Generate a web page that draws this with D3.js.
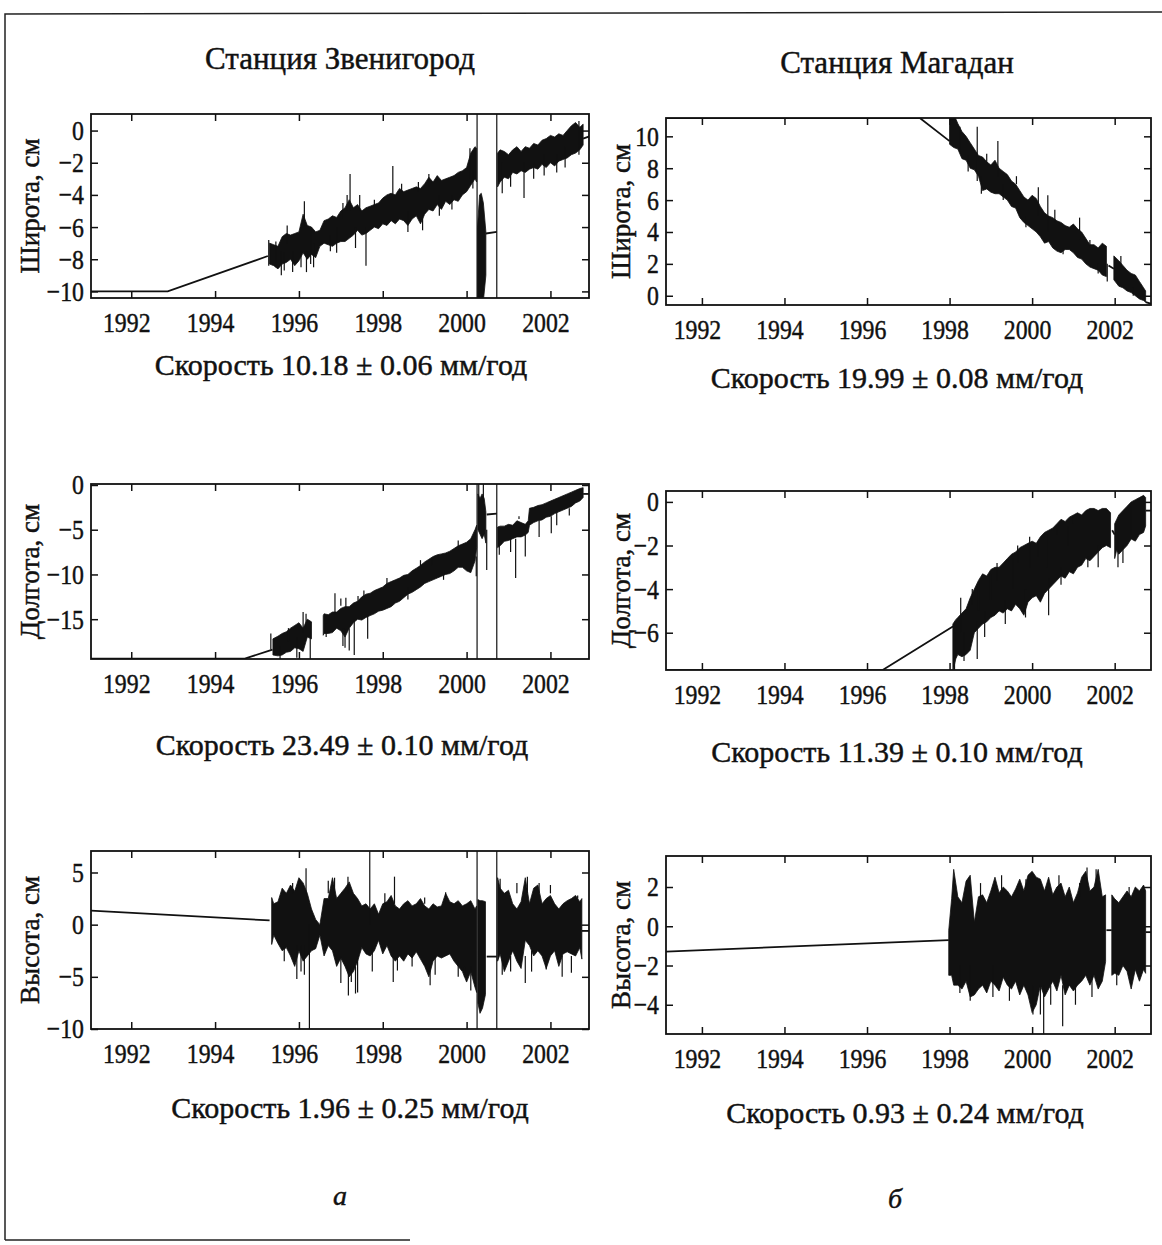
<!DOCTYPE html>
<html>
<head>
<meta charset="utf-8">
<title>Станции Звенигород и Магадан</title>
<script src="https://cdn.jsdelivr.net/npm/d3@7"></script>
<style>
  body { margin: 0; background: #fff; }
  svg { display: block; }
  text { font-family: "Liberation Serif", "Times New Roman", serif; fill: #111; stroke: #111; stroke-width: 0.45px; }
  .axis path { display: none; }
  .axis line { stroke: #111; stroke-width: 1.5; }
  .axis text { font-size: 28px; font-family: "Liberation Serif", serif; fill: #111; stroke: #111; stroke-width: 0.45px; }
  .frame { fill: none; stroke: #111; stroke-width: 1.8; }
  .band { fill: #111; stroke: #111; stroke-width: 0.8; stroke-linejoin: miter; }
  .spike { stroke: #111; stroke-width: 1.2; }
  .link { fill: none; stroke: #111; stroke-width: 1.8; }
  .border { fill: none; stroke: #222; stroke-width: 1.5; }
</style>
</head>
<body>
<script>

const xTicks = [1992, 1994, 1996, 1998, 2000, 2002];
const stationNames = ["Станция Звенигород", "Станция Магадан"];
const columnLetters = ["а", "б"];
const componentLabels = ["Широта, см", "Долгота, см", "Высота, см"];
const rateLabels = [
  ["Скорость 10.18 ± 0.06 мм/год", "Скорость 23.49 ± 0.10 мм/год", "Скорость 1.96 ± 0.25 мм/год"],
  ["Скорость 19.99 ± 0.08 мм/год", "Скорость 11.39 ± 0.10 мм/год", "Скорость 0.93 ± 0.24 мм/год"]
];

// y ticks per panel
const zvLatTicks = [0, -2, -4, -6, -8, -10];
const zvLonTicks = [0, -5, -10, -15];
const zvHgtTicks = [5, 0, -5, -10];
const magLatTicks = [0, 2, 4, 6, 8, 10];
const magLonTicks = [0, -2, -4, -6];
const magHgtTicks = [2, 0, -2, -4];

// bands: [year, low, high] (null = gap)
const zvLatBand = [
  [1995.3,-8.3,-7.0],[1995.4,-8.4,-7.1],[1995.5,-8.6,-7.2],[1995.6,-8.3,-6.6],[1995.7,-8.2,-6.4],
  [1995.8,-8.0,-6.5],[1995.9,-8.4,-6.4],[1996.0,-8.1,-6.3],[1996.1,-7.6,-5.2],[1996.2,-8.0,-5.9],
  [1996.3,-7.7,-6.0],[1996.4,-7.9,-6.3],[1996.5,-7.2,-6.2],[1996.6,-7.0,-5.6],[1996.7,-7.1,-5.5],
  [1996.8,-7.2,-5.3],[1996.9,-7.0,-5.4],[1997.0,-6.9,-5.0],[1997.1,-6.9,-4.8],[1997.2,-6.7,-4.3],
  [1997.3,-6.5,-4.8],[1997.4,-6.2,-4.6],[1997.5,-6.5,-5.0],[1997.6,-6.4,-4.8],[1997.7,-6.2,-4.7],
  [1997.8,-6.0,-4.6],[1997.9,-6.1,-4.5],[1998.0,-5.8,-4.2],[1998.1,-5.9,-4.0],[1998.2,-5.6,-3.9],
  [1998.3,-5.8,-4.0],[1998.4,-5.5,-3.6],[1998.5,-5.6,-3.8],[1998.6,-5.9,-3.7],[1998.7,-5.5,-3.6],
  [1998.8,-5.3,-3.5],[1998.9,-5.8,-3.6],[1999.0,-5.2,-3.3],[1999.1,-4.9,-2.9],[1999.2,-5.0,-3.2],
  [1999.3,-4.6,-2.8],[1999.4,-4.9,-3.1],[1999.5,-4.4,-3.0],[1999.6,-4.6,-2.9],[1999.7,-4.3,-2.8],
  [1999.8,-4.4,-2.6],[1999.9,-4.0,-2.5],[2000.0,-3.8,-2.3],[2000.1,-3.4,-1.4],[2000.2,-3.0,-1.0],
  [2000.24,-3.2,-1.1],[2000.25,null,null],
  [2000.26,-10.8,-6.0],[2000.31,-10.8,-4.0],[2000.35,-10.8,-3.9],[2000.4,-10.6,-4.5],[2000.46,-9.0,-6.3],
  [2000.48,null,null],
  [2000.74,-3.5,-1.4],[2000.8,-3.2,-1.2],[2000.9,-2.9,-1.3],[2001.0,-3.0,-1.5],[2001.1,-2.6,-1.2],
  [2001.2,-2.7,-1.0],[2001.3,-2.5,-1.3],[2001.4,-2.6,-1.0],[2001.5,-2.4,-1.1],[2001.6,-2.3,-0.8],
  [2001.7,-2.4,-0.9],[2001.8,-2.1,-0.6],[2001.9,-2.3,-0.5],[2002.0,-2.0,-0.3],[2002.1,-2.2,-0.4],
  [2002.2,-1.9,-0.2],[2002.3,-1.8,-0.3],[2002.4,-1.7,0.0],[2002.5,-1.5,0.3],[2002.6,-1.4,0.5],
  [2002.7,-1.2,0.2],[2002.78,-0.9,0.4]
];
// spikes: [year, from, to]
const zvLatSpikes = [
  [1995.28,-8.4,-6.8],[1995.58,-9.0,-7.5],[1995.72,-7.0,-5.9],[1995.85,-8.8,-7.5],[1996.13,-6.0,-4.4],
  [1996.18,-8.8,-7.5],[1996.28,-8.3,-6.0],[1996.9,-7.6,-6.0],[1997.22,-5.0,-2.7],[1997.15,-5.0,-4.0],
  [1997.6,-8.4,-6.0],[1997.35,-7.3,-6.0],[1998.24,-4.0,-2.2],[1998.6,-6.3,-5.0],[1998.95,-6.2,-5.0],
  [1999.1,-3.5,-2.7],[2000.08,-3.0,-1.1],[2000.25,-11,1.2],[2000.72,-11,1.2],[2000.85,-3.9,-2.0],
  [2001.37,-4.2,-2.0],[2002.35,-2.3,-1.0],[2002.68,-1.5,0.6],
  [1995.45,-8.5,-6.9],[1995.65,-8.7,-7.6],[1996.05,-8.5,-7.5],[1996.35,-8.5,-7.0],[1996.75,-7.5,-6.5],
  [1997.05,-5.5,-4.5],[1997.45,-5.0,-4.0],[1997.8,-4.8,-4.3],[1998.45,-3.8,-3.3],[1998.85,-3.8,-3.2],
  [1999.35,-5.3,-4.0],[1999.65,-4.9,-4.0],[2000.15,-3.6,-2.5],[2001.05,-3.5,-2.5],[2001.6,-3.0,-2.0],
  [2001.85,-2.8,-1.5],[2002.15,-2.6,-1.5]
];
const zvLatLinks = [
  [[1991.0,-10.0],[1992.87,-10.0],[1995.26,-7.8]],
  [[2000.46,-6.4],[2000.72,-6.3]],
  [[2002.78,-0.5],[2003.0,-0.3]]
];

const zvLonBand = [
  [1995.38,-19.0,-17.2],[1995.5,-19.1,-16.9],[1995.6,-19.0,-16.6],[1995.7,-18.7,-16.4],[1995.8,-18.6,-16.0],
  [1995.9,-18.2,-15.7],[1996.0,-18.3,-15.4],[1996.1,-18.6,-16.0],[1996.2,-17.0,-15.0],[1996.3,-17.2,-15.3],
  [1996.35,null,null],
  [1996.58,-16.8,-14.6],[1996.6,-16.6,-14.4],[1996.7,-16.6,-14.5],[1996.8,-16.5,-14.2],[1996.9,-16.0,-14.2],
  [1997.0,-16.3,-13.8],[1997.1,-17.0,-13.6],[1997.2,-16.0,-13.6],[1997.3,-15.4,-13.2],[1997.4,-15.0,-13.0],
  [1997.5,-15.1,-12.5],[1997.6,-14.8,-12.2],[1997.7,-14.6,-12.1],[1997.8,-14.4,-11.8],[1997.9,-14.1,-11.6],
  [1998.0,-14.0,-11.4],[1998.1,-13.8,-11.0],[1998.2,-13.6,-10.8],[1998.3,-13.2,-10.6],[1998.4,-13.0,-10.4],
  [1998.5,-12.6,-10.1],[1998.6,-12.2,-10.0],[1998.7,-12.0,-9.6],[1998.8,-11.7,-9.3],[1998.9,-11.4,-9.0],
  [1999.0,-11.0,-8.6],[1999.1,-10.8,-8.3],[1999.2,-10.6,-8.0],[1999.3,-10.4,-7.8],[1999.4,-10.2,-7.7],
  [1999.5,-10.0,-7.6],[1999.6,-9.9,-7.4],[1999.7,-9.6,-7.1],[1999.8,-9.2,-6.8],[1999.9,-9.2,-6.6],
  [2000.0,-9.6,-6.4],[2000.1,-9.8,-6.0],[2000.2,-8.5,-5.0],[2000.24,-7.0,-4.5],[2000.25,null,null],
  [2000.27,-5.0,-1.0],[2000.32,-5.5,-1.5],[2000.37,-6.0,-1.0],[2000.42,-5.5,-1.5],[2000.46,-6.5,-3.0],
  [2000.48,null,null],
  [2000.74,-7.0,-4.7],[2000.8,-6.8,-4.6],[2000.9,-6.3,-4.6],[2001.0,-6.2,-4.4],[2001.1,-6.0,-4.5],
  [2001.2,-5.8,-4.0],[2001.3,-5.8,-4.2],[2001.4,-5.6,-4.4],[2001.47,-5.3,-4.0],[2001.5,-4.5,-2.6],
  [2001.6,-4.2,-2.5],[2001.7,-4.0,-2.3],[2001.8,-3.9,-2.2],[2001.9,-3.6,-2.0],[2002.0,-3.5,-1.8],
  [2002.1,-3.2,-1.6],[2002.2,-3.0,-1.4],[2002.3,-2.8,-1.2],[2002.4,-2.6,-1.0],[2002.5,-2.4,-0.8],
  [2002.6,-2.0,-0.6],[2002.7,-1.8,-0.4],[2002.78,-1.4,-0.3]
];
const zvLonSpikes = [
  [1995.33,-18.4,-16.6],[1995.75,-17.5,-16.0],[1996.17,-16.0,-14.4],[1996.27,-19.5,-17.0],
  [1996.86,-14.5,-12.1],[1997.1,-18.2,-16.0],[1997.05,-18.0,-16.0],[1997.12,-13.8,-12.6],
  [1997.32,-19.0,-15.0],[1997.41,-13.2,-12.4],[1997.64,-17.2,-14.5],[1999.18,-9.0,-8.2],
  [2000.23,-10.2,-8.0],[2000.25,-20,0.5],[2000.29,-2.0,0.2],[2000.4,-2.0,0.2],[2000.48,-9.5,-5.0],
  [2000.72,-20,0.5],[2000.78,-7.8,-6.5],[2001.17,-10.4,-6.0],[2001.4,-8.0,-5.5],[2001.73,-5.8,-4.0],
  [2002.02,-5.4,-3.5],
  [1995.55,-19.5,-18.0],[1995.95,-19.3,-17.0],[1996.1,-16.5,-14.2],[1996.65,-17.0,-15.5],
  [1997.0,-13.5,-12.7],[1997.2,-18.5,-16.0],[1997.55,-12.8,-11.8],[1998.1,-11.4,-10.4],
  [1998.6,-12.8,-11.5],[1998.9,-9.2,-8.4],[1999.45,-10.6,-9.5],[1999.8,-7.0,-6.2],
  [2001.05,-7.5,-6.0],[2001.25,-3.8,-3.5],[2002.15,-4.5,-3.0],[2002.45,-3.4,-2.6]
];
const zvLonLinks = [
  [[1991.0,-19.4],[1994.71,-19.4],[1995.37,-18.4]],
  [[2000.48,-3.3],[2000.72,-3.2]],
  [[2002.78,-1.0],[2003.0,-1.0]]
];

const zvHgtBand = [
  [1995.35,-1.9,2.6],[1995.4,-1.0,2.0],[1995.5,-1.8,2.2],[1995.6,-2.5,3.5],[1995.7,-2.2,3.0],
  [1995.8,-3.0,3.8],[1995.9,-4.0,3.2],[1996.0,-2.5,4.5],[1996.1,-3.5,4.0],[1996.2,-3.0,3.0],
  [1996.3,-2.5,1.5],[1996.4,-2.3,0.5],[1996.5,-1.0,0.0],[1996.6,-3.0,2.5],[1996.7,-2.0,2.5],
  [1996.8,-2.5,4.5],[1996.9,-4.0,2.5],[1997.0,-3.2,3.0],[1997.1,-4.0,3.5],[1997.2,-5.0,4.1],
  [1997.3,-4.5,3.0],[1997.4,-3.5,2.5],[1997.5,-2.2,1.8],[1997.6,-2.8,2.0],[1997.7,-3.0,1.5],
  [1997.8,-2.5,2.0],[1997.9,-1.5,1.0],[1998.0,-2.8,2.0],[1998.1,-2.0,2.2],[1998.2,-3.0,2.8],
  [1998.3,-3.5,1.8],[1998.4,-3.0,1.5],[1998.5,-3.5,2.0],[1998.6,-2.8,2.3],[1998.7,-3.2,1.8],
  [1998.8,-2.6,2.0],[1998.9,-3.3,2.5],[1999.0,-4.0,1.8],[1999.1,-5.0,1.5],[1999.2,-3.5,2.0],
  [1999.3,-3.0,1.7],[1999.4,-3.2,1.8],[1999.5,-3.0,3.0],[1999.6,-2.8,2.2],[1999.7,-3.5,2.0],
  [1999.8,-4.0,2.3],[1999.9,-4.5,1.8],[2000.0,-5.5,2.0],[2000.1,-4.5,2.3],[2000.2,-6.0,1.5],
  [2000.24,-6.5,1.8],[2000.25,null,null],
  [2000.27,-7.5,2.4],[2000.32,-8.5,2.3],[2000.38,-8.0,2.3],[2000.45,-6.7,2.2],[2000.48,null,null],
  [2000.74,-3.5,4.5],[2000.8,-2.8,3.5],[2000.9,-4.5,3.0],[2001.0,-3.5,3.3],[2001.1,-2.5,2.0],
  [2001.2,-3.5,1.5],[2001.3,-4.2,2.2],[2001.4,-1.5,4.5],[2001.5,-2.0,2.0],[2001.6,-3.0,3.5],
  [2001.7,-2.5,3.8],[2001.8,-3.0,2.0],[2001.9,-4.2,2.5],[2002.0,-3.0,2.8],[2002.1,-2.5,2.0],
  [2002.2,-4.0,1.5],[2002.3,-2.8,2.0],[2002.4,-2.6,2.3],[2002.5,-2.8,2.5],[2002.6,-3.0,2.8],
  [2002.7,-2.2,2.2],[2002.75,-3.3,2.5]
];
const zvHgtSpikes = [
  [1995.95,-5.2,-2.0],[1996.17,3.0,5.4],[1996.13,-4.8,-2.0],[1996.25,-10.5,0.0],[1997.0,-5.6,-3.0],
  [1997.18,-6.8,-4.0],[1997.17,3.0,4.6],[1997.35,-6.6,-4.0],[1997.69,0.0,7.2],[1998.25,-5.5,-3.0],
  [1998.28,2.0,4.6],[1999.13,-5.8,-4.0],[1999.5,2.0,3.1],[2000.25,-10.5,7.2],[2000.72,-10.5,7.2],
  [2000.8,3.0,4.4],[2001.4,-5.6,-3.0],[2001.45,3.0,4.6],[2001.73,3.0,4.0],[2002.28,-5.0,-3.0],
  [1995.65,-3.5,-2.0],[1995.85,3.0,4.0],[1996.05,-4.5,-2.0],[1996.7,3.0,4.2],[1996.85,3.0,4.5],
  [1997.25,-5.5,-4.0],[1997.4,-6.5,-3.0],[1997.75,-4.5,-2.0],[1998.05,2.0,3.0],[1998.35,-4.4,-3.0],
  [1998.7,-4.0,-3.0],[1999.0,2.0,2.6],[1999.25,-4.8,-3.0],[1999.8,-5.0,-3.5],[1999.95,-5.0,-4.0],
  [2000.1,-6.3,-4.0],[2000.85,-4.8,-3.0],[2001.05,-4.5,-3.0],[2001.2,3.0,4.0],[2001.55,-4.5,-2.5],
  [2001.9,-4.3,-3.0],[2002.0,3.0,3.8],[2002.5,-4.6,-3.0],[2002.65,2.5,2.8]
];
const zvHgtLinks = [
  [[1991.0,1.36],[1995.3,0.41]],
  [[2000.48,-3.06],[2000.72,-3.06]],
  [[2002.75,-0.6],[2003.0,-0.6]]
];

const magLatBand = [
  [1998.0,9.5,11.4],[1998.1,9.3,11.4],[1998.2,9.2,10.8],[1998.3,8.6,10.3],[1998.4,8.5,10.0],
  [1998.5,8.0,9.6],[1998.6,7.9,9.2],[1998.7,7.5,8.8],[1998.8,6.6,8.7],[1998.9,6.7,8.4],
  [1999.0,6.5,8.2],[1999.1,6.4,8.5],[1999.2,6.4,8.0],[1999.3,6.2,7.8],[1999.4,6.0,7.6],
  [1999.5,5.6,7.2],[1999.6,5.5,7.0],[1999.7,4.9,6.6],[1999.8,4.6,6.2],[1999.9,4.4,6.0],
  [2000.0,4.2,6.3],[2000.1,4.0,6.1],[2000.2,3.7,5.6],[2000.3,3.3,5.2],[2000.4,3.4,5.0],
  [2000.5,3.0,4.9],[2000.6,2.8,4.7],[2000.7,2.7,4.6],[2000.8,2.9,4.4],[2000.9,2.9,4.3],
  [2001.0,2.7,4.5],[2001.1,2.4,4.2],[2001.2,2.3,4.0],[2001.3,2.0,3.6],[2001.4,1.8,3.2],
  [2001.5,1.7,3.2],[2001.6,1.6,3.0],[2001.7,1.3,3.3],[2001.8,1.2,3.1],[2001.85,null,null],
  [2001.98,1.0,2.5],[2002.1,0.6,2.2],[2002.2,0.5,1.9],[2002.3,0.3,1.6],[2002.4,0.2,1.4],
  [2002.5,0.0,1.3],[2002.6,-0.2,0.9],[2002.7,-0.3,0.5],[2002.75,-0.4,0.3]
];
const magLatSpikes = [
  [1998.67,7.2,10.6],[1999.17,7.5,9.7],[1998.77,6.4,7.5],[2000.15,5.0,6.8],[2000.38,4.0,6.3],
  [2001.15,3.5,4.9],[2001.82,0.9,2.0],
  [1998.25,9.0,10.6],[1998.45,7.8,8.8],[1998.9,8.3,8.9],[1999.3,6.0,7.0],[1999.62,7.0,7.5],
  [1999.85,4.3,5.0],[2000.55,4.6,5.4],[2000.75,2.6,3.0],[2001.4,3.0,3.5],[2001.6,1.4,2.0],
  [2002.15,1.8,2.5],[2002.45,0.0,0.5]
];
const magLatLinks = [
  [[1991.0,11.15],[1997.28,11.15],[1998.0,9.7]],
  [[2001.85,1.9],[2001.98,1.7]],
  [[2002.75,-0.4],[2003.0,-0.6]]
];

const magLonBand = [
  [1998.08,-7.8,-5.6],[1998.15,-7.2,-5.4],[1998.2,-7.0,-5.3],[1998.3,-7.1,-5.1],[1998.4,-7.0,-4.9],
  [1998.5,-6.8,-4.4],[1998.6,-6.0,-4.0],[1998.7,-5.8,-3.6],[1998.8,-5.6,-3.3],[1998.9,-5.5,-3.4],
  [1999.0,-5.3,-3.1],[1999.1,-5.2,-3.0],[1999.2,-5.0,-3.0],[1999.3,-5.1,-2.8],[1999.4,-4.9,-2.6],
  [1999.5,-5.0,-2.4],[1999.6,-4.7,-2.3],[1999.7,-4.9,-2.1],[1999.8,-5.2,-2.0],[1999.9,-4.6,-1.9],
  [2000.0,-4.4,-1.8],[2000.1,-4.3,-1.9],[2000.2,-4.6,-1.6],[2000.3,-4.2,-1.4],[2000.4,-4.0,-1.3],
  [2000.5,-3.8,-1.2],[2000.6,-3.6,-1.0],[2000.7,-3.4,-0.8],[2000.8,-3.5,-0.9],[2000.9,-3.2,-0.7],
  [2001.0,-3.3,-0.6],[2001.1,-3.0,-0.5],[2001.2,-2.9,-0.6],[2001.3,-2.6,-0.4],[2001.4,-2.7,-0.3],
  [2001.5,-2.5,-0.3],[2001.6,-2.3,-0.4],[2001.7,-2.1,-0.3],[2001.8,-2.0,-0.3],[2001.9,-2.1,-0.5],
  [2001.94,null,null],
  [2002.0,-2.6,-1.0],[2002.05,-2.2,-0.8],[2002.1,-2.4,-0.6],[2002.2,-2.2,-0.4],[2002.3,-2.0,-0.2],
  [2002.4,-1.7,0.0],[2002.5,-1.8,0.1],[2002.6,-1.5,0.2],[2002.7,-1.4,0.3],[2002.75,-1.1,0.2]
];
const magLonSpikes = [
  [1998.12,-8.0,-6.0],[1998.27,-6.0,-4.4],[1998.67,-7.2,-5.5],[1998.7,-5.0,-3.7],[1998.99,-4.5,-3.3],
  [1999.54,-4.0,-2.6],[1999.94,-3.0,-1.6],[1999.84,-5.3,-4.0],[2000.4,-5.2,-3.5],[2000.35,-3.0,-1.5],
  [2000.86,-2.0,-1.1],[2002.08,-3.0,-1.5],
  [1998.35,-7.3,-6.0],[1998.55,-4.7,-4.0],[1998.85,-6.2,-5.0],[1999.15,-3.6,-2.8],[1999.35,-5.6,-4.5],
  [1999.65,-2.8,-2.0],[2000.15,-2.5,-1.8],[2000.6,-1.5,-1.2],[2000.7,-3.8,-3.0],[2001.0,-1.0,-0.7],
  [2001.35,-3.0,-2.5],[2001.6,-3.0,-2.0],[2002.2,-2.8,-2.0],[2002.4,-1.5,-0.2]
];
const magLonLinks = [
  [[1991.0,-7.72],[1996.37,-7.72],[1998.09,-5.7]],
  [[2001.94,-1.3],[2002.0,-1.5]],
  [[2002.75,-0.4],[2003.0,-0.4]]
];

const magHgtBand = [
  [1997.98,-2.5,-0.2],[1998.05,-2.5,1.4],[1998.1,-3.0,2.9],[1998.2,-3.0,1.5],[1998.3,-3.2,1.2],
  [1998.4,-2.8,2.3],[1998.5,-3.6,2.6],[1998.6,-3.5,0.2],[1998.7,-3.2,1.5],[1998.8,-3.0,1.6],
  [1998.9,-3.4,1.2],[1999.0,-2.8,1.8],[1999.1,-3.0,2.5],[1999.2,-3.3,1.7],[1999.3,-2.6,2.0],
  [1999.4,-3.0,1.8],[1999.5,-3.2,1.5],[1999.6,-2.8,1.9],[1999.7,-3.5,2.4],[1999.8,-3.0,1.8],
  [1999.9,-3.5,2.6],[2000.0,-4.4,2.8],[2000.1,-4.0,2.5],[2000.2,-3.0,2.4],[2000.3,-3.6,1.8],
  [2000.4,-3.2,2.5],[2000.5,-2.8,1.6],[2000.6,-3.3,2.0],[2000.7,-2.5,2.2],[2000.8,-3.5,1.5],
  [2000.9,-3.0,2.0],[2001.0,-3.3,1.2],[2001.1,-3.0,1.7],[2001.2,-2.8,2.5],[2001.3,-2.5,2.8],
  [2001.4,-3.0,1.8],[2001.5,-2.5,2.0],[2001.6,-3.2,2.9],[2001.7,-2.8,1.5],[2001.78,-1.8,1.6],
  [2001.8,null,null],
  [2001.93,-2.5,1.6],[2002.0,-2.4,1.4],[2002.1,-2.5,1.2],[2002.2,-2.0,1.5],[2002.3,-2.3,1.8],
  [2002.4,-3.2,1.5],[2002.5,-2.2,2.0],[2002.6,-2.8,1.8],[2002.7,-2.2,2.1],[2002.75,-2.4,1.8]
];
const magHgtSpikes = [
  [1998.5,-3.8,-2.0],[1999.26,1.5,2.6],[2000.02,-4.5,-3.0],[2000.2,-4.5,-3.0],[2000.28,-5.5,-3.0],
  [2000.74,-5.1,-3.0],[2001.33,2.0,3.0],[2001.55,2.0,2.9],
  [1998.25,-3.4,-2.0],[1998.75,1.5,2.2],[1999.05,-3.6,-2.0],[1999.45,-3.8,-2.5],[1999.85,2.0,2.4],
  [2000.45,-4.0,-3.0],[2000.65,2.0,2.6],[2001.05,-4.0,-3.0],[2001.15,1.5,2.2],[2001.45,-3.6,-2.5],
  [2002.05,-3.0,-2.0],[2002.35,1.5,2.0]
];
const magHgtLinks = [
  [[1991.0,-1.3],[1997.98,-0.71]],
  [[2001.8,-0.2],[2001.93,-0.2]],
  [[2002.75,-0.3],[2003.0,-0.3]]
];

// ---- layout ----
const width = 1162, height = 1245;
const tickScale = 0.85;
const cols = [
  {left: 91, w: 498, xDomain: [1991.04, 2002.92], titleX: 340, titleY: 69, letterX: 340, letterY: 1205, labelX: 30},
  {left: 666, w: 485, xDomain: [1991.13, 2002.88], titleX: 897, titleY: 73, letterX: 895, letterY: 1208, labelX: 621}
];

const panels = [
  {col: 0, row: 0, top: 114, h: 184, yDomain: [-10.41, 1.03], yTicks: zvLatTicks,
   band: zvLatBand, spikes: zvLatSpikes, links: zvLatLinks, rateX: 341, rateY: 375},
  {col: 0, row: 1, top: 484, h: 175, yDomain: [-19.45, 0.11], yTicks: zvLonTicks,
   band: zvLonBand, spikes: zvLonSpikes, links: zvLonLinks, rateX: 342, rateY: 755},
  {col: 0, row: 2, top: 851, h: 178, yDomain: [-10.0, 7.06], yTicks: zvHgtTicks,
   band: zvHgtBand, spikes: zvHgtSpikes, links: zvHgtLinks, rateX: 350, rateY: 1118},
  {col: 1, row: 0, top: 118, h: 187, yDomain: [-0.58, 11.15], yTicks: magLatTicks,
   band: magLatBand, spikes: magLatSpikes, links: magLatLinks, rateX: 897, rateY: 388},
  {col: 1, row: 1, top: 491, h: 179, yDomain: [-7.71, 0.5], yTicks: magLonTicks,
   band: magLonBand, spikes: magLonSpikes, links: magLonLinks, rateX: 897, rateY: 762},
  {col: 1, row: 2, top: 856, h: 178, yDomain: [-5.49, 3.58], yTicks: magHgtTicks,
   band: magHgtBand, spikes: magHgtSpikes, links: magHgtLinks, rateX: 905, rateY: 1123}
];

const svg = d3.select("body").append("svg")
  .attr("width", width)
  .attr("height", height);

svg.append("rect").attr("width", width).attr("height", height).attr("fill", "#fff");

// scanned page border
svg.append("path").attr("class", "border").attr("d", "M5,1240 L5,14 L1162,12");
svg.append("path").attr("class", "border").attr("d", "M5,1240 L410,1240");

cols.forEach((c, i) => {
  svg.append("text")
    .attr("x", c.titleX).attr("y", c.titleY)
    .attr("text-anchor", "middle")
    .style("font-size", "31px")
    .text(stationNames[i]);

  svg.append("text")
    .attr("x", c.letterX).attr("y", c.letterY)
    .attr("text-anchor", "middle")
    .style("font-size", "28px")
    .style("font-style", "italic")
    .text(columnLetters[i]);
});

panels.forEach((p, i) => {
  const c = cols[p.col];
  const x = d3.scaleLinear().domain(c.xDomain).range([0, c.w]);
  const y = d3.scaleLinear().domain(p.yDomain).range([p.h, 0]);

  const g = svg.append("g").attr("transform", "translate(" + c.left + "," + p.top + ")");

  g.append("clipPath").attr("id", "clip" + i)
    .append("rect").attr("width", c.w).attr("height", p.h);

  const plot = g.append("g").attr("clip-path", "url(#clip" + i + ")");

  const line = d3.line().x(d => x(d[0])).y(d => y(d[1]));
  plot.selectAll(".link").data(p.links).join("path")
    .attr("class", "link")
    .attr("d", line);

  const area = d3.area()
    .defined(d => d[1] !== null)
    .x(d => x(d[0]))
    .y0(d => y(d[1]))
    .y1(d => y(d[2]));
  plot.append("path").attr("class", "band").attr("d", area(p.band));

  plot.selectAll(".spike").data(p.spikes).join("line")
    .attr("class", "spike")
    .attr("x1", d => x(d[0])).attr("x2", d => x(d[0]))
    .attr("y1", d => y(d[1])).attr("y2", d => y(d[2]));

  g.append("rect").attr("class", "frame").attr("width", c.w).attr("height", p.h);

  // bottom axis with narrow (scanned) labels, shifted slightly left like the print
  g.append("g").attr("class", "axis")
    .attr("transform", "translate(0," + p.h + ")")
    .call(d3.axisBottom(x).tickValues(xTicks).tickFormat(d3.format("d"))
      .tickSizeInner(-7).tickSizeOuter(0).tickPadding(14))
    .selectAll("text")
    .attr("transform", "translate(-5,0) scale(" + tickScale + ",1)");
  g.append("g").attr("class", "axis")
    .call(d3.axisTop(x).tickValues(xTicks).tickFormat("")
      .tickSizeInner(-7).tickSizeOuter(0));
  g.append("g").attr("class", "axis")
    .call(d3.axisLeft(y).tickValues(p.yTicks).tickFormat(d3.format("d"))
      .tickSizeInner(-7).tickSizeOuter(0).tickPadding(7 / tickScale))
    .selectAll("text")
    .attr("transform", "scale(" + tickScale + ",1)");
  g.append("g").attr("class", "axis")
    .attr("transform", "translate(" + c.w + ",0)")
    .call(d3.axisRight(y).tickValues(p.yTicks).tickFormat("")
      .tickSizeInner(-7).tickSizeOuter(0));

  svg.append("text")
    .attr("transform", "translate(" + c.labelX + "," + (p.top + p.h / 2) + ") rotate(-90)")
    .attr("text-anchor", "middle")
    .attr("dy", "0.35em")
    .style("font-size", "27px")
    .text(componentLabels[p.row]);

  svg.append("text")
    .attr("x", p.rateX).attr("y", p.rateY)
    .attr("text-anchor", "middle")
    .style("font-size", "30px")
    .text(rateLabels[p.col][p.row]);
});

</script>
</body>
</html>
